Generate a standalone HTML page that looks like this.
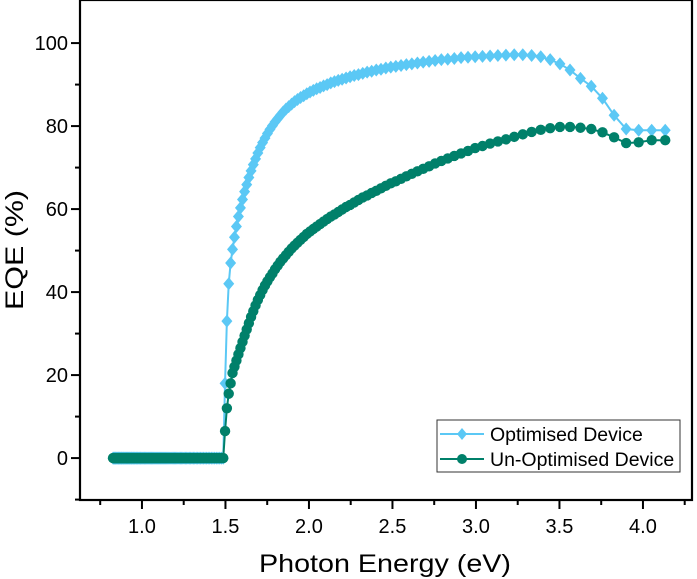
<!DOCTYPE html>
<html><head><meta charset="utf-8"><style>
html,body{margin:0;padding:0;background:#fff;}
svg{display:block;font-family:"Liberation Sans",Arial,sans-serif;}
</style></head><body>
<svg id="chart" width="697" height="579" viewBox="0 0 697 579" xmlns="http://www.w3.org/2000/svg"></svg>
<script>
// wavelengths (nm); x = photon energy 1240/lambda
const wavelengths = [300,306,312,318,324,330,336,342,348,354,360,366,372,378,384,390,396,402,408,414,420,426,432,438,444,450,456,462,468,474,480,486,492,498,504,510,516,522,528,534,540,546,552,558,564,570,576,582,588,594,600,606,612,618,624,630,636,642,648,654,660,666,672,678,684,690,696,702,708,714,720,726,732,738,744,750,756,762,768,774,780,786,792,798,804,810,816,822,828,834,840,846,852,858,864,870,876,882,888,894,900,906,912,918,924,930,936,942,948,954,960,966,972,978,984,990,996,1002,1008,1014,1020,1026,1032,1038,1044,1050,1056,1062,1068,1074,1080,1086,1092,1098,1104,1110,1116,1122,1128,1134,1140,1146,1152,1158,1164,1170,1176,1182,1188,1194,1200,1206,1212,1218,1224,1230,1236,1242,1248,1254,1260,1266,1272,1278,1284,1290,1296,1302,1308,1314,1320,1326,1332,1338,1344,1350,1356,1362,1368,1374,1380,1386,1392,1398,1404,1410,1416,1422,1428,1434,1440,1446,1452,1458,1464,1470,1476,1482,1488,1494,1500];
const optimised = [79,79,79,79.3,82.6,86.7,89.6,91.5,93.5,95,96,96.7,97,97.2,97.2,97.1,97,96.9,96.8,96.7,96.6,96.5,96.3,96.1,96,95.8,95.6,95.4,95.2,95,94.8,94.6,94.4,94.2,94,93.7,93.5,93.2,93,92.7,92.4,92.2,91.9,91.6,91.3,91,90.7,90.4,90,89.7,89.3,89,88.6,88.2,87.8,87.3,86.9,86.4,85.9,85.3,84.7,84.1,83.4,82.6,81.8,81,80.1,79.2,78.2,77.1,76,74.8,73.5,72.1,70.7,69.2,67.6,65.9,64.2,62.3,60.3,58.2,55.8,53.2,50.3,47,42,33,18,0,0,0,0,0,0,0,0,0,0,0,0,0,0,0,0,0,0,0,0,0,0,0,0,0,0,0,0,0,0,0,0,0,0,0,0,0,0,0,0,0,0,0,0,0,0,0,0,0,0,0,0,0,0,0,0,0,0,0,0,0,0,0,0,0,0,0,0,0,0,0,0,0,0,0,0,0,0,0,0,0,0,0,0,0,0,0,0,0,0,0,0,0,0,0,0,0,0,0,0,0,0,0,0,0,0,0,0,0,0,0,0,0,0];
const unoptimised = [76.6,76.6,76.1,75.9,77.3,78.5,79.3,79.6,79.8,79.8,79.5,79.1,78.6,78,77.4,76.8,76.3,75.8,75.2,74.7,74,73.4,72.8,72.2,71.6,71,70.3,69.7,69.1,68.5,67.9,67.3,66.7,66.2,65.6,65,64.4,63.9,63.3,62.8,62.2,61.6,61,60.5,59.9,59.3,58.7,58.2,57.6,57,56.4,55.8,55.2,54.6,54,53.3,52.6,51.9,51.2,50.5,49.7,48.9,48.1,47.3,46.4,45.5,44.5,43.6,42.6,41.6,40.5,39.3,38.1,36.8,35.4,34,32.5,31,29.5,28,26.5,25,23.5,22,20.5,18,15.5,12,6.5,0,0,0,0,0,0,0,0,0,0,0,0,0,0,0,0,0,0,0,0,0,0,0,0,0,0,0,0,0,0,0,0,0,0,0,0,0,0,0,0,0,0,0,0,0,0,0,0,0,0,0,0,0,0,0,0,0,0,0,0,0,0,0,0,0,0,0,0,0,0,0,0,0,0,0,0,0,0,0,0,0,0,0,0,0,0,0,0,0,0,0,0,0,0,0,0,0,0,0,0,0,0,0,0,0,0,0,0,0,0,0,0,0,0,0,0,0,0,0,0,0,0];
const xTicks = [1.0,1.5,2.0,2.5,3.0,3.5,4.0];
const xTickLabels = ["1.0","1.5","2.0","2.5","3.0","3.5","4.0"];
const xMinorTicks = [0.75,1.25,1.75,2.25,2.75,3.25,3.75,4.25];
const yTicks = [0,20,40,60,80,100];
const yTickLabels = ["0","20","40","60","80","100"];
const yMinorTicks = [-10,10,30,50,70,90];

const NS="http://www.w3.org/2000/svg";
const svg=document.getElementById('chart');
const L=80,R=692,T=0,B=500;
const xMin=0.629,xMax=0.629+(R-L)/167;
const yMin=-10.1,yMax=-10.1+(B-T)/4.15;
function sx(v){return L+(v-xMin)/(xMax-xMin)*(R-L);}
function sy(v){return B-(v-yMin)/(yMax-yMin)*(B-T);}
function mk(tag,attrs,parent){const e=document.createElementNS(NS,tag);for(const k in attrs)e.setAttribute(k,attrs[k]);(parent||svg).appendChild(e);return e;}

const frame=mk('rect',{x:L,y:T,width:R-L,height:B-T,fill:'none',stroke:'#000','stroke-width':2.2});



xTicks.forEach((v,i)=>{
  const t=mk('line',{x1:sx(v),x2:sx(v),y1:B,y2:B+9,stroke:'#000','stroke-width':2});
  
  
  const tx=mk('text',{x:sx(v),y:B+33,'text-anchor':'middle','font-size':20,fill:'#000'});
  tx.textContent=xTickLabels[i];
  
  
});
xMinorTicks.forEach(v=>{
  const t=mk('line',{x1:sx(v),x2:sx(v),y1:B,y2:B+5,stroke:'#000','stroke-width':2});
  
  
});
yTicks.forEach((v,i)=>{
  const t=mk('line',{x1:L-9,x2:L,y1:sy(v),y2:sy(v),stroke:'#000','stroke-width':2});
  
  
  const tx=mk('text',{x:L-12,y:sy(v)+7,'text-anchor':'end','font-size':20,fill:'#000'});
  tx.textContent=yTickLabels[i];
  
  
});
yMinorTicks.forEach(v=>{
  const t=mk('line',{x1:L-5,x2:L,y1:sy(v),y2:sy(v),stroke:'#000','stroke-width':2});
  
  
});

const xl=mk('text',{x:385,y:572,'text-anchor':'middle','font-size':25,fill:'#000',textLength:252,lengthAdjust:'spacingAndGlyphs'});
xl.textContent='Photon Energy (eV)';


const yl=mk('text',{x:0,y:0,'text-anchor':'middle','font-size':25,fill:'#000',transform:'translate(23,250) rotate(-90)',textLength:120,lengthAdjust:'spacingAndGlyphs'});
yl.textContent='EQE (%)';



function series(vals,color,shape,name){
  const g=mk('g',{});
  
  
  const pts=wavelengths.map((w,i)=>sx(1240/w).toFixed(2)+','+sy(vals[i]).toFixed(2)).join(' ');
  const pl=mk('polyline',{points:pts,fill:'none',stroke:color,'stroke-width':2},g);
  
  
  wavelengths.forEach((w,i)=>{
    const x=sx(1240/w),y=sy(vals[i]);
    let m;
    if(shape==='diamond') m=mk('polygon',{points:`${x},${y-6.5} ${x+5.5},${y} ${x},${y+6.5} ${x-5.5},${y}`,fill:color},g);
    else m=mk('circle',{cx:x,cy:y,r:5.2,fill:color},g);
    
    
  });
}
series(optimised,'#5BC8F5','diamond','optimised-series');
series(unoptimised,'#00806A','circle','unoptimised-series');

const lg=mk('g',{});


const lb=mk('rect',{x:437,y:420,width:243,height:52,fill:'#fff',stroke:'#333','stroke-width':1},lg);


[['Optimised Device','#5BC8F5','diamond',434],['Un-Optimised Device','#00806A','circle',459]].forEach(([t,c,s,y])=>{
  const ent=mk('g',{},lg);
  
  
  mk('line',{x1:440,x2:484,y1:y,y2:y,stroke:c,'stroke-width':2},ent);
  if(s==='diamond') mk('polygon',{points:`462,${y-6} 467,${y} 462,${y+6} 457,${y}`,fill:c},ent);
  else mk('circle',{cx:462,cy:y,r:5,fill:c},ent);
  const tx=mk('text',{x:490,y:y+7,'font-size':19.5,fill:'#000'},ent);
  tx.textContent=t;
});
</script>
</body></html>
